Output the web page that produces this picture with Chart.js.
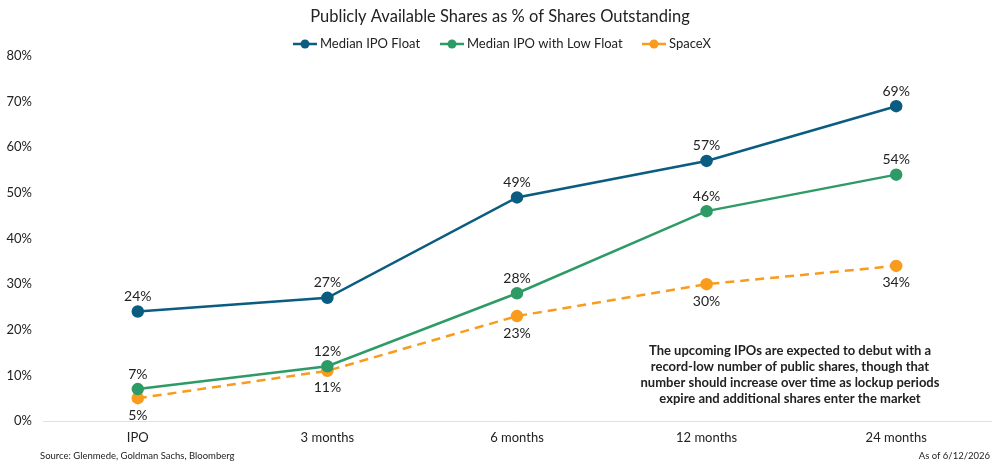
<!DOCTYPE html>
<html>
<head>
<meta charset="utf-8">
<script src="https://cdn.jsdelivr.net/npm/chart.js@4.4.1/dist/chart.umd.min.js"></script>
<style>
  html, body { margin:0; padding:0; background:#fff; }
  #wrap { width:1000px; height:468px; position:relative; }
</style>
</head>
<body>
<div id="wrap"><canvas id="chart" width="1000" height="468"></canvas></div>
<script>
// chart data
const categories = ["IPO", "3 months", "6 months", "12 months", "24 months"];
const medianFloat = [24, 27, 49, 57, 69];
const lowFloat = [7, 12, 28, 46, 54];
const spaceX = [5, 11, 23, 30, 34];
const yTicks = [0, 10, 20, 30, 40, 50, 60, 70, 80];

const BLUE = "#0a5c80", GREEN = "#2e9b67", ORANGE = "#f99b1c", TEXT = "#222";
const FONT = "Lato, 'Noto Sans', sans-serif";

const legendItems = [
  {label:"Median IPO Float", color:BLUE, x:293},
  {label:"Median IPO with Low Float", color:GREEN, x:440},
  {label:"SpaceX", color:ORANGE, x:642}
];

const noteLines = [
  "The upcoming IPOs are expected to debut with a",
  "record-low number of public shares, though that",
  "number should increase over time as lockup periods",
  "expire and additional shares enter the market"
];

// draws title, legend, point labels, note and footer
const extras = {
  id:"extras",
  afterDatasetsDraw(chart){
    const ctx = chart.ctx;
    ctx.save();
    ctx.fillStyle = TEXT;
    ctx.textAlign = "center";
    ctx.textBaseline = "middle";
    ctx.font = "16.5px " + FONT;
    ctx.fillText("Publicly Available Shares as % of Shares Outstanding", 500, 17);

    // legend
    ctx.font = "13px " + FONT;
    ctx.textAlign = "left";
    legendItems.forEach(it=>{
      ctx.strokeStyle = it.color;
      ctx.lineWidth = 2.5;
      ctx.beginPath(); ctx.moveTo(it.x, 44); ctx.lineTo(it.x+24, 44); ctx.stroke();
      ctx.fillStyle = it.color;
      ctx.beginPath(); ctx.arc(it.x+12, 44, 4.5, 0, Math.PI*2); ctx.fill();
      ctx.fillStyle = TEXT;
      ctx.fillText(it.label, it.x+27, 44);
    });

    // point labels
    ctx.font = "14px " + FONT;
    ctx.textAlign = "center";
    chart.data.datasets.forEach((ds,i)=>{
      const meta = chart.getDatasetMeta(i);
      meta.data.forEach((pt,j)=>{
        const off = ds.labelPos === "below" ? 17 : -15;
        ctx.fillText(ds.data[j] + "%", pt.x, pt.y + off);
      });
    });

    // note
    ctx.font = "bold 13px " + FONT;
    noteLines.forEach((l,i)=> ctx.fillText(l, 790, 351 + i*16));

    // footer
    ctx.font = "9.5px " + FONT;
    ctx.textAlign = "left";
    ctx.fillText("Source: Glenmede, Goldman Sachs, Bloomberg", 40, 456);
    ctx.textAlign = "right";
    ctx.fillText("As of 6/12/2026", 990, 456);
    ctx.restore();
  }
};

new Chart(document.getElementById("chart"), {
  type:"line",
  data:{
    labels:categories,
    datasets:[
      {label:"Median IPO Float", data:medianFloat, borderColor:BLUE, backgroundColor:BLUE, borderWidth:2.5, pointRadius:5, labelPos:"above"},
      {label:"Median IPO with Low Float", data:lowFloat, borderColor:GREEN, backgroundColor:GREEN, borderWidth:2.5, pointRadius:5, labelPos:"above"},
      {label:"SpaceX", data:spaceX, borderColor:ORANGE, backgroundColor:ORANGE, borderWidth:2.5, borderDash:[9,6], pointRadius:5, labelPos:"below"}
    ]
  },
  options:{
    responsive:false,
    animation:false,
    layout:{padding:{top:56, right:9, left:0, bottom:0}},
    plugins:{legend:{display:false}, title:{display:false}, tooltip:{enabled:false}},
    scales:{
      x:{
        offset:true,
        grid:{display:false, drawTicks:false, offset:true},
        border:{display:true, color:"#e0e0e0", width:1},
        ticks:{color:TEXT, font:{family:FONT, size:13}, padding:9, maxRotation:0},
        afterFit(s){ s.height = 47; }
      },
      y:{
        min:0, max:80,
        afterBuildTicks(s){ s.ticks = yTicks.map(v=>({value:v})); },
        grid:{display:false, drawTicks:false},
        border:{display:false},
        ticks:{color:TEXT, font:{family:FONT, size:13}, padding:11, callback:v=>v+"%"},
        afterFit(s){ s.width = 43; }
      }
    }
  },
  plugins:[extras]
});
</script>
</body>
</html>
